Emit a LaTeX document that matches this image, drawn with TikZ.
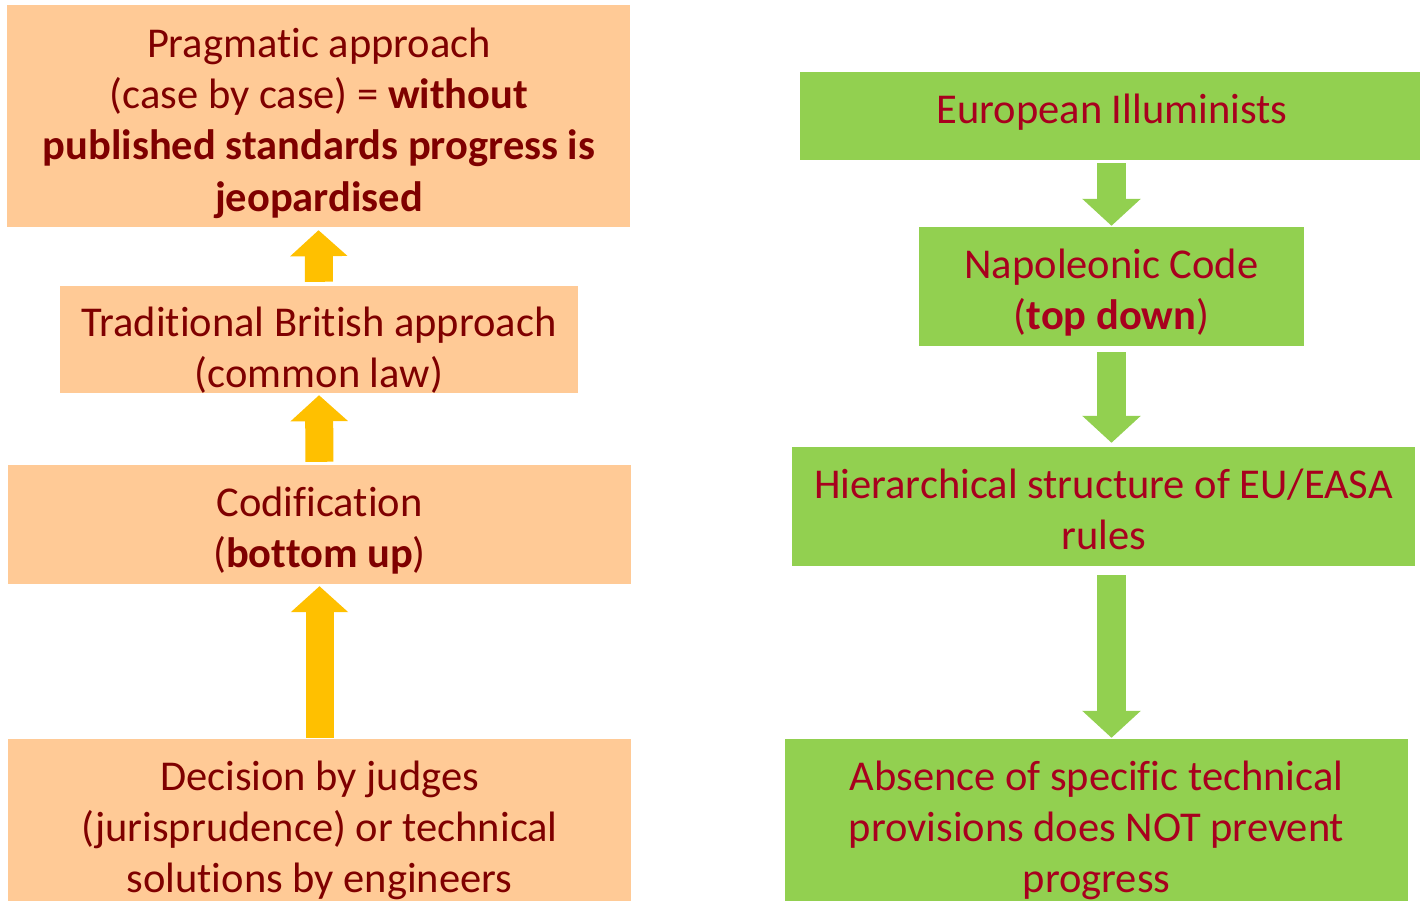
\documentclass[tikz,border=0pt]{standalone}
\usepackage{fontspec}
\setmainfont{Carlito}[Ligatures=NoCommon]
\usetikzlibrary{arrows.meta,calc}
\definecolor{peach}{HTML}{FFCA96}
\definecolor{ltxt}{HTML}{7F0000}
\definecolor{rtxt}{HTML}{A8001E}
\definecolor{gold}{HTML}{FFC000}
\definecolor{lgreen}{HTML}{92D050}
\begin{document}
\begin{tikzpicture}[x=1pt,y=-1pt,
  obox/.style={fill=peach, draw=none, inner sep=0pt},
  gbox/.style={fill=lgreen, draw=none, inner sep=0pt},
  otxt/.style={inner sep=0pt, align=center, text=ltxt, font=\fontsize{42.5}{51}\selectfont},
  gtxt/.style={inner sep=0pt, align=center, text=rtxt, font=\fontsize{42.5}{51}\selectfont},
  uparrow/.style={draw=gold, line width=28pt, -{Triangle[length=26pt,width=56pt]}},
  downarrow/.style={draw=lgreen, line width=29pt, -{Triangle[length=27pt,width=57pt]}}]
\useasboundingbox (0,0) rectangle (1420,901);
\fill[white] (0,0) rectangle (1420,901);
% left column
\node[obox, minimum width=623pt, minimum height=222pt] (b1) at (318.5,116) {};
\node[otxt, font=\fontsize{42.5}{51.3}\selectfont] (b1t) at ($(b1.center)+(0.5,7)$) {Pragmatic approach\\(case by case) = \textbf{without}\\\textbf{published standards progress is}\\\textbf{jeopardised}};
\node[obox, minimum width=518pt, minimum height=107pt] (b2) at (319,339.5) {};
\node[otxt] (b2t) at ($(b2.center)+(0,11)$) {Traditional British approach\\(common law)};
\node[obox, minimum width=623pt, minimum height=119pt] (b3) at (319.5,524.5) {};
\node[otxt] (b3t) at ($(b3.center)+(0,6)$) {Codification\\(\textbf{bottom up})};
\node[obox, minimum width=623pt, minimum height=176pt] (b4) at (319.5,827) {};
\node[otxt] (b4t) at ($(b4.center)+(0,3)$) {Decision by judges\\(jurisprudence) or technical\\solutions by engineers};
\draw[uparrow, shorten <=4pt, shorten >=3pt] (b2.north) -- (b1.south);
\draw[uparrow, shorten <=3pt, shorten >=2pt] (b3.north) -- (b2.south);
\draw[uparrow, shorten <=1pt, shorten >=2pt] (b4.north) -- (b3.south);
% right column
\coordinate (rx) at (1111.5,0);
\node[gbox, minimum width=620pt, minimum height=88pt] (r1) at (1110,116) {};
\node[gtxt] (r1t) at ($(r1.center)+(2,-4)$) {European Illuminists};
\node[gbox, minimum width=385pt, minimum height=119pt] (r2) at (1111.5,286.5) {};
\node[gtxt] (r2t) at ($(r2.center)+(0,6)$) {Napoleonic Code\\(\textbf{top down})};
\node[gbox, minimum width=623pt, minimum height=119pt] (r3) at (1103.5,506.5) {};
\node[gtxt] (r3t) at ($(r3.center)+(0,3)$) {Hierarchical structure of EU/EASA\\rules};
\node[gbox, minimum width=623pt, minimum height=176pt] (r4) at (1096.5,827) {};
\node[gtxt] (r4t) at ($(r4.center)+(0,3)$) {Absence of specific technical\\provisions does NOT prevent\\progress};
\draw[downarrow, shorten <=3pt, shorten >=1pt] (r1.south -| rx) -- (r2.north -| rx);
\draw[downarrow, shorten <=6pt, shorten >=4pt] (r2.south -| rx) -- (r3.north -| rx);
\draw[downarrow, shorten <=9pt, shorten >=1pt] (r3.south -| rx) -- (r4.north -| rx);
\end{tikzpicture}
\end{document}
